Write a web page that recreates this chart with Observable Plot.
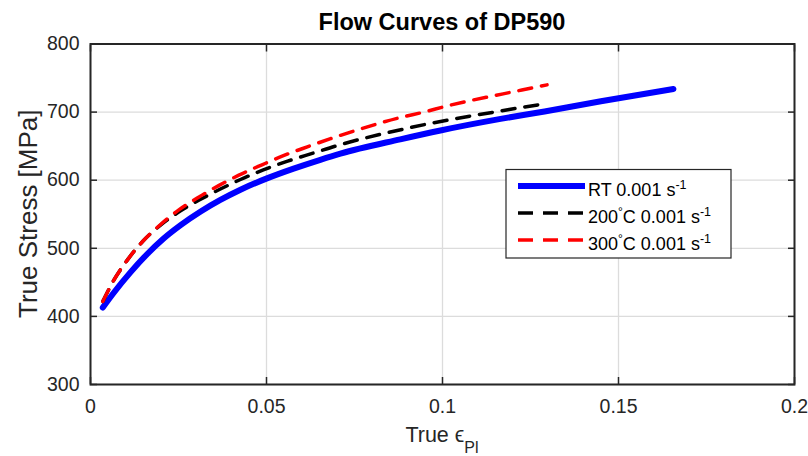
<!DOCTYPE html>
<html>
<head>
<meta charset="utf-8">
<script src="https://cdn.jsdelivr.net/npm/d3@7"></script>
<script src="https://cdn.jsdelivr.net/npm/@observablehq/plot@0.6"></script>
<style>
  html, body { margin: 0; padding: 0; background: #fff; }
  #chart svg { display: block; }
</style>
</head>
<body>
<div id="chart"></div>
<script>
// ---- data ----
const rtStrain   = [0.0035, 0.0065, 0.0114, 0.0162, 0.0207, 0.0256, 0.0313, 0.0369, 0.0426, 0.0503, 0.0577, 0.0653, 0.071, 0.088, 0.0994, 0.1165, 0.129, 0.145, 0.1656];
const rtStress   = [413, 434, 465, 492, 514, 534, 554, 571, 586, 603, 617, 630, 639, 660, 673, 690, 701, 716, 734];

const t200Strain = [0.0035, 0.0065, 0.0105, 0.0148, 0.0199, 0.0256, 0.0313, 0.0369, 0.0426, 0.0491, 0.056, 0.0634, 0.0702, 0.0889, 0.0952, 0.1023, 0.1088, 0.1159, 0.1227, 0.1288];
const t200Stress = [422, 452, 483, 510, 534, 555, 572, 587, 601, 615, 628, 640, 651, 675, 682, 689, 695, 701, 707, 712];

const t300Strain = [0.0035, 0.0065, 0.0105, 0.0148, 0.0199, 0.025, 0.0307, 0.0364, 0.042, 0.0489, 0.0548, 0.0616, 0.0682, 0.0753, 0.088, 0.0947, 0.1013, 0.108, 0.1146, 0.1212, 0.1297];
const t300Stress = [422, 452, 483, 510, 535, 556, 575, 592, 607, 623, 636, 649, 661, 673, 692, 700, 709, 717, 724, 731, 740];

const xTicks = [0, 0.05, 0.1, 0.15, 0.2];
const xTickLabels = ["0", "0.05", "0.1", "0.15", "0.2"];
const yTicks = [300, 400, 500, 600, 700, 800];
const yTickLabels = ["300", "400", "500", "600", "700", "800"];

const titleText = "Flow Curves of DP590";
const seriesNames = ["RT 0.001 s", "200", "300"];

const toRows = (xs, ys) => xs.map((x, i) => ({x, y: ys[i]}));
const rt = toRows(rtStrain, rtStress);
const t200 = toRows(t200Strain, t200Stress);
const t300 = toRows(t300Strain, t300Stress);

const W = 808, H = 456;
const mL = 90, mR = 14, mT = 43.5, mB = 72;
const axisColor = "#262626";
const font = "'Liberation Sans', Arial, Helvetica, sans-serif";
const tick = 7;
const blank = () => "";

const chart = Plot.plot({
  width: W, height: H,
  marginLeft: mL, marginRight: mR, marginTop: mT, marginBottom: mB,
  style: {fontFamily: font, background: "#fff", color: axisColor, overflow: "visible"},
  x: {domain: [0, 0.2]},
  y: {domain: [300, 800]},
  marks: [
    Plot.gridX(xTicks, {stroke: "#dcdcdc", strokeOpacity: 1, strokeWidth: 1.3}),
    Plot.gridY(yTicks, {stroke: "#dcdcdc", strokeOpacity: 1, strokeWidth: 1.3}),
    Plot.line(rt,   {x: "x", y: "y", stroke: "#0000ff", strokeWidth: 6, curve: "monotone-x"}),
    Plot.line(t200, {x: "x", y: "y", stroke: "#000000", strokeWidth: 3.5, strokeDasharray: "13,10", curve: "monotone-x"}),
    Plot.line(t300, {x: "x", y: "y", stroke: "#ff0000", strokeWidth: 3.5, strokeDasharray: "13,10", curve: "monotone-x"}),
    // inward ticks on all four sides
    Plot.axisX(xTicks, {anchor: "bottom", tickSize: tick, dy: -tick, tickFormat: blank, stroke: axisColor, strokeWidth: 1.5, label: null}),
    Plot.axisX(xTicks, {anchor: "top", tickSize: tick, dy: tick, tickFormat: blank, stroke: axisColor, strokeWidth: 1.5, label: null}),
    Plot.axisY(yTicks, {anchor: "left", tickSize: tick, dx: tick, tickFormat: blank, stroke: axisColor, strokeWidth: 1.5, label: null}),
    Plot.axisY(yTicks, {anchor: "right", tickSize: tick, dx: -tick, tickFormat: blank, stroke: axisColor, strokeWidth: 1.5, label: null}),
    // tick labels
    Plot.axisX(xTicks, {anchor: "bottom", tickSize: 0, tickPadding: 15, fontSize: 19.5, fill: axisColor,
      tickFormat: (d) => xTickLabels[xTicks.indexOf(d)], label: null}),
    Plot.axisY(yTicks, {anchor: "left", tickSize: 0, tickPadding: 11, fontSize: 19.5, fill: axisColor,
      tickFormat: (d) => yTickLabels[yTicks.indexOf(d)], label: null}),
    Plot.frame({stroke: axisColor, strokeWidth: 2})
  ]
});

const svg = d3.select(chart);
svg.attr("font-family", font);

// title
svg.append("text")
  .attr("x", (mL + W - mR) / 2).attr("y", 30)
  .attr("text-anchor", "middle").attr("font-size", 23.5).attr("font-weight", "bold")
  .attr("fill", "#000").text(titleText);

// x label: True ϵ_Pl
const xl = svg.append("text")
  .attr("x", (mL + W - mR) / 2).attr("y", 442)
  .attr("text-anchor", "middle").attr("font-size", 21.5).attr("fill", axisColor);
xl.append("tspan").text("True ");
xl.append("tspan").text("\u03F5");
xl.append("tspan").attr("dy", 11).attr("font-size", 16).text("Pl");

// y label
svg.append("text")
  .attr("transform", `translate(37,${(mT + H - mB) / 2}) rotate(-90)`)
  .attr("text-anchor", "middle").attr("font-size", 26).attr("fill", axisColor)
  .text("True Stress [MPa]");

// legend
const lg = svg.append("g").attr("text-anchor", "start");
lg.append("rect").attr("x", 506).attr("y", 169.5).attr("width", 225).attr("height", 88.5)
  .attr("fill", "#fff").attr("stroke", axisColor).attr("stroke-width", 1.2);
const entries = [
  {color: "#0000ff", width: 6, dash: null, name: seriesNames[0], deg: false},
  {color: "#000000", width: 3.5, dash: "15,10", name: seriesNames[1], deg: true},
  {color: "#ff0000", width: 3.5, dash: "15,10", name: seriesNames[2], deg: true}
];
entries.forEach((e, i) => {
  const cy = 186 + i * 27;
  const ln = lg.append("line").attr("x1", 518).attr("x2", 585).attr("y1", cy).attr("y2", cy)
    .attr("stroke", e.color).attr("stroke-width", e.width);
  if (e.dash) ln.attr("stroke-dasharray", e.dash);
  const t = lg.append("text").attr("x", 588).attr("y", cy + 10).attr("font-size", 18)
    .attr("text-anchor", "start").attr("fill", "#000");
  if (e.deg) {
    t.append("tspan").text(e.name);
    t.append("tspan").attr("dy", -7).attr("font-size", 12).text("\u00B0");
    t.append("tspan").attr("dy", 7).text("C 0.001 s");
  } else {
    t.append("tspan").text(e.name);
  }
  t.append("tspan").attr("dy", -7).attr("font-size", 12.5).text("-1");
});

document.getElementById("chart").appendChild(chart);
</script>
</body>
</html>
